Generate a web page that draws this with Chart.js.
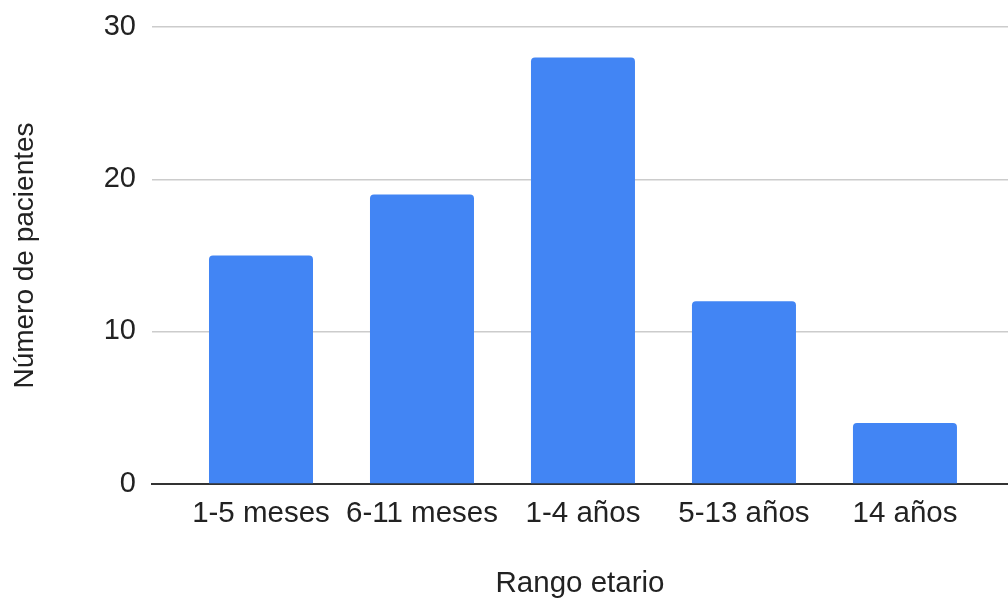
<!DOCTYPE html>
<html>
<head>
<meta charset="utf-8">
<script src="https://cdn.jsdelivr.net/npm/chart.js@4"></script>
<style>
  html, body { margin: 0; padding: 0; background: #ffffff; }
  #wrap { width: 1008px; height: 608px; }
</style>
</head>
<body>
<div id="wrap"><canvas id="c" width="1008" height="608"></canvas></div>
<script>
const categories = ['1-5 meses', '6-11 meses', '1-4 años', '5-13 años', '14 años'];
const pacientes = [15, 19, 28, 12, 4];
const yTicks = [0, 10, 20, 30];

const FONT = "'Liberation Sans', Arial, sans-serif";
const TEXT = '#222222';

const points = categories.map((c, i) => ({ x: i, y: pacientes[i] }));

new Chart(document.getElementById('c'), {
  type: 'bar',
  data: {
    datasets: [{
      label: 'Número de pacientes',
      data: points,
      backgroundColor: '#4285F4',
      borderWidth: 0,
      borderRadius: 4,
      barPercentage: 0.646,
      categoryPercentage: 1.0
    }]
  },
  options: {
    responsive: false,
    animation: false,
    devicePixelRatio: 1,
    layout: { padding: { top: 27, right: 0, bottom: 0, left: 0 } },
    plugins: { legend: { display: false }, tooltip: { enabled: false } },
    scales: {
      x: {
        type: 'linear',
        offset: false,
        min: -0.677,
        max: 4.64,
        grid: { display: false, drawTicks: false },
        border: { display: true, color: '#333333', width: 2 },
        ticks: {
          stepSize: 1,
          includeBounds: false,
          autoSkip: false,
          maxRotation: 0,
          padding: 12,
          color: TEXT,
          font: { family: FONT, size: 29.5 },
          callback: (v) => (Number.isInteger(v) && categories[v] !== undefined) ? categories[v] : ''
        },
        title: {
          display: true,
          text: 'Rango etario',
          color: TEXT,
          font: { family: FONT, size: 29.5 },
          padding: { top: 0, bottom: 6 }
        },
        afterFit: (s) => { s.height = 124; s.paddingLeft = 0; s.paddingRight = 0; }
      },
      y: {
        min: yTicks[0],
        max: yTicks[yTicks.length - 1],
        grid: {
          drawTicks: false,
          color: (ctx) => ctx.tick && ctx.tick.value === 0 ? 'rgba(0,0,0,0)' : '#cccccc',
          lineWidth: 1.5
        },
        border: { display: false },
        afterBuildTicks: (s) => { s.ticks = yTicks.map(v => ({ value: v })); },
        ticks: {
          padding: 16,
          labelOffset: -0.5,
          color: TEXT,
          font: { family: FONT, size: 29 }
        },
        title: {
          display: true,
          text: 'Número de pacientes',
          color: TEXT,
          font: { family: FONT, size: 28 },
          padding: { top: 8.5, bottom: 0 }
        },
        afterFit: (s) => { s.width = 152; s.paddingTop = 0; s.paddingBottom = 0; }
      }
    }
  }
});
</script>
</body>
</html>
